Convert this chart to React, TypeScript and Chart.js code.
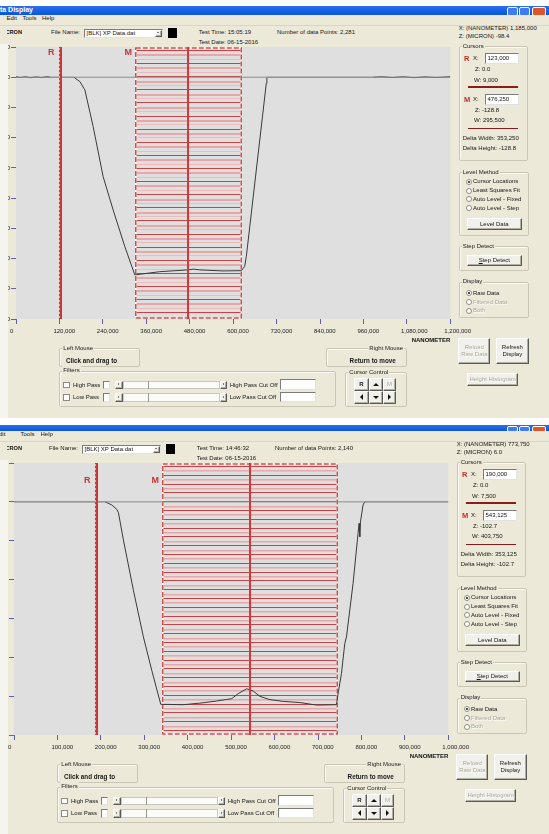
import React, { useEffect, useRef } from 'react';
import { Chart, registerables } from 'chart.js';

Chart.register(...registerables);

const FONT = '"Liberation Sans", Arial, Helvetica, sans-serif';
const BEIGE = '#ece9d8';
const TICK_BLUE = '#5c5cd6';

/* ---------- scan taken at 15:05:19 ---------- */
const upperInfo = ['15:05:19', '06-15-2016'];
const upperPointCount = [2281];
const upperPointer = [1185000, -98.4]; // X (nm), Z (micron) under the mouse
const upperCursorR = [123000, 0.0, 9000]; // X, Z, W
const upperCursorM = [476250, -128.8, 295500];
const upperDelta = [353250, -128.8]; // width, height
const upperXAxis = [0, 1200000, 120000]; // min, max, step
const upperZAxis = [-160, 20, 20];
const upperProfileX = [
  0, 12000, 26000, 40000, 55000, 70000, 85500, 95000, 160000, 176500,
  187600, 190300, 213200, 240800, 268400, 300700, 328300, 397200, 475300, 490000,
  507600, 571900, 622600, 631700, 636400, 691600, 693200, 987600, 1010000, 1040000,
  1070000, 1100000, 1130000, 1160000, 1200000,
];
const upperProfileZ = [
  0.3, -0.2, 0.3, -0.3, 0.2, -0.2, 0.3, 0, 0, -2.9,
  -7.3, -8.4, -32.7, -65.8, -87.8, -112.1, -130.8, -128.7, -127.5, -127.0,
  -127.5, -128.2, -128.0, -125.3, -118.7, -4.0, 0, 0, 0.3, -0.2,
  0.3, -0.3, 0.2, -0.2, 0.3,
];

/* ---------- scan taken at 14:46:32 ---------- */
const lowerInfo = ['14:46:32', '06-15-2016'];
const lowerPointCount = [2140];
const lowerPointer = [773750, 6.0];
const lowerCursorR = [190000, 0.0, 7500];
const lowerCursorM = [543125, -102.7, 403750];
const lowerDelta = [353125, -102.7];
const lowerXAxis = [0, 1000000, 100000];
const lowerZAxis = [-120, 20, 20];
const lowerProfileX = [
  0, 209900, 225300, 236800, 240500, 252000, 274900, 297900, 317200, 337900,
  389900, 428300, 466700, 489700, 501200, 516300, 535600, 550800, 566200, 589200,
  619800, 658200, 696600, 742500, 746200, 754000, 761600, 765500, 780700, 792200,
  794500, 796100, 797700, 803700, 807600, 1000000,
];
const lowerProfileZ = [
  0, 0, -1.6, -3.9, -5.6, -19.7, -45.5, -69.5, -86.7, -104.2,
  -104.4, -103.6, -102.5, -101.7, -101.3, -98.7, -96.2, -97.4, -100.1, -101.8,
  -102.7, -103.3, -104.6, -104.4, -98.7, -88.4, -72.9, -69.5, -42.0, -16.2,
  -11.1, -18.0, -10.3, -1.6, 0, 0,
];

const fileName = '[BLK] XP Data.dat';
const menuItems = ['Edit', 'Tools', 'Help'];
const levelMethods = ['Cursor Locations', 'Least Squares Fit', 'Auto Level - Fixed', 'Auto Level - Step'];
const displayModes = ['Raw Data', 'Filtered Data', 'Both'];
const filterNames = ['High Pass', 'Low Pass'];

type Scan = {
  info: string[];
  points: number;
  pointer: number[];
  r: number[];
  m: number[];
  delta: number[];
  xAxis: number[];
  zAxis: number[];
  px: number[];
  pz: number[];
};

const upperScan: Scan = {
  info: upperInfo, points: upperPointCount[0], pointer: upperPointer, r: upperCursorR, m: upperCursorM,
  delta: upperDelta, xAxis: upperXAxis, zAxis: upperZAxis, px: upperProfileX, pz: upperProfileZ,
};
const lowerScan: Scan = {
  info: lowerInfo, points: lowerPointCount[0], pointer: lowerPointer, r: lowerCursorR, m: lowerCursorM,
  delta: lowerDelta, xAxis: lowerXAxis, zAxis: lowerZAxis, px: lowerProfileX, pz: lowerProfileZ,
};

const fmtInt = (n: number) => String(Math.round(n)).replace(/\B(?=(\d{3})+(?!\d))/g, ',');
const fmtZ = (z: number) => z.toFixed(1);

/* ---------- small widgets ---------- */
type TProps = {
  x: number; y: number; s?: number; b?: boolean; c?: string;
  a?: 'left' | 'right' | 'center'; w?: number; sh?: boolean; children: React.ReactNode;
};
function T({ x, y, s = 6, b = false, c = '#161616', a = 'left', w = 80, sh = false, children }: TProps) {
  const lh = Math.ceil(s + 3);
  const left = a === 'left' ? x : a === 'right' ? x - w : x - w / 2;
  return (
    <div
      style={{
        position: 'absolute', left, top: y - lh / 2, width: a === 'left' ? undefined : w,
        textAlign: a, fontFamily: FONT, fontSize: s, lineHeight: lh + 'px', fontWeight: b ? 700 : 400,
        color: c, whiteSpace: 'nowrap', textShadow: sh ? '0.6px 0.6px 0 #ffffff' : undefined,
      }}
    >
      {children}
    </div>
  );
}

const abs = (left: number, top: number, width: number, height: number): React.CSSProperties => ({
  position: 'absolute', left, top, width, height, boxSizing: 'border-box',
});

function Group({ x, y, w, h, label, labelRight }: { x: number; y: number; w: number; h: number; label: string; labelRight?: number }) {
  return (
    <>
      <div style={{ ...abs(x, y, w, h), border: '1px solid #c9c6b5', borderRadius: 2, boxShadow: 'inset 1px 1px 0 #faf9f4' }} />
      <div
        style={{
          position: 'absolute', top: y - 4.5, fontFamily: FONT, fontSize: 6, lineHeight: '9px', color: '#1a1a1a',
          background: BEIGE, padding: '0 1px', whiteSpace: 'nowrap',
          ...(labelRight !== undefined ? { right: 549 - labelRight } : { left: x + 3 }),
        }}
      >
        {label}
      </div>
    </>
  );
}

function Btn({ x, y, w, h, disabled = false, children }: { x: number; y: number; w: number; h: number; disabled?: boolean; children: React.ReactNode }) {
  return (
    <div
      style={{
        ...abs(x, y, w, h), background: '#f1f0ea', border: '1px solid', borderColor: '#ffffff #5a5a5a #5a5a5a #ffffff',
        boxShadow: 'inset -1px -1px 0 #b2b0a6', display: 'flex', alignItems: 'center', justifyContent: 'center',
        textAlign: 'center', fontFamily: FONT, fontSize: 6, lineHeight: '7px',
        color: disabled ? '#aaa89c' : '#151515', textShadow: disabled ? '0.6px 0.6px 0 #ffffff' : undefined,
      }}
    >
      {children}
    </div>
  );
}

function Field({ x, y, w, h, children }: { x: number; y: number; w: number; h: number; children?: React.ReactNode }) {
  return (
    <div
      style={{
        ...abs(x, y, w, h), background: '#ffffff', border: '1px solid', borderColor: '#7c7c7c #e2e2e2 #e2e2e2 #7c7c7c',
        fontFamily: FONT, fontSize: 6, lineHeight: h - 2 + 'px', paddingLeft: 1.5, color: '#151515',
        whiteSpace: 'nowrap', overflow: 'hidden',
      }}
    >
      {children}
    </div>
  );
}

function Radio({ x, y, checked = false, disabled = false, label }: { x: number; y: number; checked?: boolean; disabled?: boolean; label: string }) {
  return (
    <>
      <div style={{ ...abs(x, y - 3, 6, 6), borderRadius: '50%', border: '1px solid #8d8c84', background: '#ffffff' }}>
        {checked && <div style={{ ...abs(1, 1, 2, 2), borderRadius: '50%', background: '#111111' }} />}
      </div>
      <T x={x + 7} y={y} c={disabled ? '#aaa89c' : '#161616'} sh={disabled}>{label}</T>
    </>
  );
}

function Tri({ x, y, dir, size = 3, color = '#111111' }: { x: number; y: number; dir: 'l' | 'r' | 'u' | 'd'; size?: number; color?: string }) {
  const s = size;
  const st: React.CSSProperties = { position: 'absolute', width: 0, height: 0, borderStyle: 'solid' };
  if (dir === 'l') Object.assign(st, { left: x - s / 2, top: y - s, borderWidth: `${s}px ${s}px ${s}px 0`, borderColor: `transparent ${color} transparent transparent` });
  if (dir === 'r') Object.assign(st, { left: x - s / 2, top: y - s, borderWidth: `${s}px 0 ${s}px ${s}px`, borderColor: `transparent transparent transparent ${color}` });
  if (dir === 'u') Object.assign(st, { left: x - s, top: y - s / 2, borderWidth: `0 ${s}px ${s}px ${s}px`, borderColor: `transparent transparent ${color} transparent` });
  if (dir === 'd') Object.assign(st, { left: x - s, top: y - s / 2, borderWidth: `${s}px ${s}px 0 ${s}px`, borderColor: `${color} transparent transparent transparent` });
  return <div style={st} />;
}

/* ---------- profile plot ---------- */
const L_PAD = 40;
const T_PAD = 10;
const R_PAD = 30;
const B_PAD = 28;
const PLOT_W = 435;
const PLOT_H = 272;
const CLIP_X = 8;

type ChartProps = {
  scan: Scan; plotLeft: number; plotTop: number;
  hatchGap: number; hatchColors: string[]; hatchWidths: number[]; labelDy: number;
};

function ProfileChart({ scan, plotLeft, plotTop, hatchGap, hatchColors, hatchWidths, labelDy }: ChartProps) {
  const ref = useRef<HTMLCanvasElement>(null);
  useEffect(() => {
    const canvas = ref.current;
    if (!canvas) return;
    const [xMin, xMax, xStep] = scan.xAxis;
    const [zMin, zMax, zStep] = scan.zAxis;
    const profile = scan.px.map((x, i) => ({ x, y: scan.pz[i] }));
    const zeroLine = [{ x: xMin, y: 0 }, { x: xMax, y: 0 }];

    const cursorLayer = {
      id: 'cursorLayer',
      beforeDatasetsDraw(chart: any) {
        const { ctx, chartArea: a } = chart;
        const xs = chart.scales.x;
        ctx.save();
        ctx.fillStyle = '#dfdfdf';
        ctx.fillRect(a.left, a.top, a.right - a.left, a.bottom - a.top);
        const [mx, , mw] = scan.m;
        const x1 = Math.round(xs.getPixelForValue(mx - mw / 2));
        const x2 = Math.round(xs.getPixelForValue(mx + mw / 2));
        // horizontal hatch of the measurement window
        let k = 0;
        for (let y = a.top + 3; y < a.bottom - 2; y += hatchGap, k++) {
          const n = k % hatchColors.length;
          ctx.fillStyle = hatchColors[n];
          ctx.fillRect(x1, Math.round(y), x2 - x1, hatchWidths[n]);
        }
        ctx.lineWidth = 1.5;
        ctx.strokeStyle = '#ffffff';
        ctx.strokeRect(x1 + 0.75, a.top + 1, x2 - x1 - 1.5, a.bottom - a.top - 2);
        ctx.setLineDash([5, 2]);
        ctx.strokeStyle = '#d05050';
        ctx.strokeRect(x1 + 0.75, a.top + 1, x2 - x1 - 1.5, a.bottom - a.top - 2);
        ctx.restore();
      },
      afterDatasetsDraw(chart: any) {
        const { ctx, chartArea: a } = chart;
        const xs = chart.scales.x;
        const [rx] = scan.r;
        const [mx, , mw] = scan.m;
        const xr = xs.getPixelForValue(rx);
        const xm = xs.getPixelForValue(mx);
        const x1 = Math.round(xs.getPixelForValue(mx - mw / 2));
        ctx.save();
        // reference cursor
        ctx.fillStyle = '#cc3636';
        ctx.fillRect(xr - 1.5, a.top, 3, a.bottom - a.top);
        ctx.fillStyle = '#eda8a8';
        for (let y = a.top + 1; y < a.bottom; y += 4) ctx.fillRect(xr - 1.5, y, 1, 2);
        // measurement cursor
        ctx.fillStyle = '#d03a3a';
        ctx.fillRect(Math.round(xm) - 1, a.top, 2, a.bottom - a.top);
        ctx.font = `bold 9px ${FONT}`;
        ctx.fillStyle = '#c73535';
        ctx.textAlign = 'right';
        ctx.textBaseline = 'middle';
        ctx.fillText('R', xr - 6, a.top + labelDy);
        ctx.fillText('M', x1 - 3, a.top + labelDy);
        ctx.restore();
      },
    };

    const tickFont = { family: FONT, size: 6 };
    const chart = new Chart(canvas, {
      type: 'scatter',
      data: {
        datasets: [
          { data: zeroLine, showLine: true, borderColor: '#8c8c8c', borderWidth: 1, pointRadius: 0 },
          {
            data: profile, showLine: true, borderColor: '#3a3a3a', borderWidth: 1, pointRadius: 0,
            segment: {
              borderColor: (c: any) => (c.p0.parsed.y === 0 && c.p1.parsed.y === 0 ? '#8c8c8c' : '#3a3a3a'),
            },
          },
        ],
      },
      options: {
        animation: false,
        responsive: false,
        devicePixelRatio: 1,
        events: [],
        layout: { padding: { top: T_PAD, right: R_PAD, left: 0, bottom: 0 } },
        plugins: { legend: { display: false }, tooltip: { enabled: false } },
        scales: {
          x: {
            type: 'linear', min: xMin, max: xMax,
            afterFit: (s: any) => { s.height = B_PAD; },
            ticks: {
              stepSize: xStep, autoSkip: false, maxRotation: 0, align: 'start', labelOffset: -6, padding: 4,
              color: '#1c1c1c', font: tickFont, callback: (v: any) => fmtInt(Number(v)),
            },
            grid: { drawOnChartArea: false, drawTicks: true, tickLength: 5, tickColor: TICK_BLUE, color: TICK_BLUE },
            border: { display: false },
            title: {
              display: true, text: 'NANOMETER', align: 'end', color: '#111111',
              font: { family: FONT, size: 6, weight: 'bold' }, padding: { top: 0, bottom: 3 },
            },
          },
          y: {
            type: 'linear', min: zMin, max: zMax,
            afterFit: (s: any) => { s.width = L_PAD; },
            ticks: { stepSize: zStep, autoSkip: false, padding: 1, color: '#1c1c1c', font: tickFont },
            grid: { drawOnChartArea: false, drawTicks: true, tickLength: 5, tickColor: TICK_BLUE, color: TICK_BLUE },
            border: { display: false },
          },
        },
      } as any,
      plugins: [cursorLayer],
    });
    return () => chart.destroy();
  }, [scan, hatchGap, hatchColors, hatchWidths, labelDy]);

  const cw = L_PAD + PLOT_W + R_PAD;
  const ch = T_PAD + PLOT_H + B_PAD;
  return (
    <div style={{ position: 'absolute', left: CLIP_X, top: plotTop - T_PAD, width: cw, height: ch, overflow: 'hidden' }}>
      <canvas
        ref={ref}
        width={cw}
        height={ch}
        style={{ position: 'absolute', left: plotLeft - L_PAD - CLIP_X, top: 0, width: cw, height: ch }}
      />
    </div>
  );
}

/* ---------- one application window ---------- */
type WinProps = {
  scan: Scan; ox: number; oy: number; menuX: number[];
  hatchGap: number; hatchColors: string[]; hatchWidths: number[]; labelDy: number;
};

function AppWindow({ scan, ox, oy, menuX, hatchGap, hatchColors, hatchWidths, labelDy }: WinProps) {
  const X = (v: number) => v + ox;
  const Y = (v: number) => v + oy;
  const [rx, rz, rw] = scan.r;
  const [mx, mz, mw] = scan.m;
  const red = '#c0302c';
  return (
    <>
      <div style={{ ...abs(0, Y(15), 549, 403), background: BEIGE }} />
      <div style={{ ...abs(0, Y(44), 8, 374), background: '#f5f4ef' }} />

      {/* menu bar */}
      {menuItems.map((m, i) => (
        <T key={m} x={menuX[i]} y={Y(18.8)}>{m}</T>
      ))}
      <div style={{ ...abs(0, Y(24.5), 549, 1), background: '#d9d6c7' }} />

      {/* tool row */}
      <div style={{ ...abs(6.5, Y(28), 15.5, 9), overflow: 'hidden' }}>
        <div style={{ position: 'absolute', right: 0, top: 0, fontFamily: FONT, fontSize: 5.6, fontWeight: 700, lineHeight: '9px', whiteSpace: 'nowrap', color: '#111' }}>MICRON</div>
      </div>
      <T x={X(49)} y={Y(32.3)}>File Name:</T>
      <Field x={X(82)} y={Y(28.5)} w={79} h={9}>{fileName}</Field>
      <Btn x={X(152.5)} y={Y(29.5)} w={7.5} h={7}>{''}</Btn>
      <Tri x={X(156.2)} y={Y(33)} dir="d" size={1.6} />
      <div style={{ ...abs(X(165.5), Y(28), 9.5, 10), background: '#000' }} />
      <T x={X(196.7)} y={Y(32.3)}>{`Test Time: ${scan.info[0]}`}</T>
      <T x={X(196.7)} y={Y(42)}>{`Test Date: ${scan.info[1]}`}</T>
      <T x={X(275)} y={Y(32.3)}>{`Number of data Points: ${fmtInt(scan.points)}`}</T>
      <T x={X(456.7)} y={Y(28.3)}>{`X: (NANOMETER)  ${fmtInt(scan.pointer[0])}`}</T>
      <T x={X(456.7)} y={Y(36)}>{`Z: (MICRON)  ${fmtZ(scan.pointer[1])}`}</T>

      {/* plot */}
      <ProfileChart
        scan={scan} plotLeft={X(14)} plotTop={Y(47)}
        hatchGap={hatchGap} hatchColors={hatchColors} hatchWidths={hatchWidths} labelDy={labelDy}
      />

      {/* cursor read-outs */}
      <Group x={X(456.7)} y={Y(46)} w={69.6} h={114.7} label="Cursors" />
      <T x={X(462)} y={Y(58)} s={7.5} b c={red}>R</T>
      <T x={X(471)} y={Y(58)}>X:</T>
      <Field x={X(483)} y={Y(53)} w={34.3} h={10.5}>{fmtInt(rx)}</Field>
      <T x={X(473)} y={Y(69)}>{`Z:  ${fmtZ(rz)}`}</T>
      <T x={X(472)} y={Y(80.7)}>{`W:  ${fmtInt(rw)}`}</T>
      <div style={{ ...abs(X(465.7), Y(86.2), 50, 1.5), background: '#8b1c1c' }} />
      <T x={X(462)} y={Y(99)} s={7.5} b c={red}>M</T>
      <T x={X(471)} y={Y(99)}>X:</T>
      <Field x={X(483)} y={Y(94.3)} w={34.3} h={10.5}>{fmtInt(mx)}</Field>
      <T x={X(473)} y={Y(110)}>{`Z:  ${fmtZ(mz)}`}</T>
      <T x={X(472)} y={Y(120.7)}>{`W:  ${fmtInt(mw)}`}</T>
      <div style={{ ...abs(X(465.7), Y(127.8), 50, 1.5), background: '#8b1c1c' }} />
      <T x={X(460.7)} y={Y(138)}>{`Delta Width:  ${fmtInt(scan.delta[0])}`}</T>
      <T x={X(460.7)} y={Y(148.3)}>{`Delta Height:  ${fmtZ(scan.delta[1])}`}</T>

      {/* level method */}
      <Group x={X(456.7)} y={Y(172.3)} w={70} h={63.4} label="Level Method" />
      {levelMethods.map((m, i) => (
        <Radio key={m} x={X(464)} y={Y(181.7 + i * 8.8)} checked={i === 0} label={m} />
      ))}
      <Btn x={X(465)} y={Y(218.3)} w={54.7} h={11.6}>Level Data</Btn>

      {/* step detect */}
      <Group x={X(456.7)} y={Y(246.3)} w={70} h={25} label="Step Detect" />
      <Btn x={X(465)} y={Y(254.7)} w={54.7} h={11.6}>
        <span><u>S</u>tep Detect</span>
      </Btn>

      {/* display */}
      <Group x={X(456.7)} y={Y(281.7)} w={70} h={36.5} label="Display" />
      {displayModes.map((m, i) => (
        <Radio key={m} x={X(464)} y={Y(293.3 + i * 8.7)} checked={i === 0} disabled={i > 0} label={m} />
      ))}

      <Btn x={X(456.3)} y={Y(338)} w={32} h={26} disabled>
        <span>Reload<br />Raw Data</span>
      </Btn>
      <Btn x={X(494)} y={Y(338)} w={32.7} h={26}>
        <span>Refresh<br />Display</span>
      </Btn>
      <Btn x={X(465)} y={Y(373)} w={51.3} h={13.3} disabled>Height Histogram</Btn>

      {/* mouse hints */}
      <Group x={X(57.3)} y={Y(348.3)} w={80.4} h={19} label="Left Mouse" />
      <T x={X(64)} y={Y(360.7)} s={6.3} b>Click and drag to</T>
      <Group x={X(324)} y={Y(348.3)} w={80.7} h={19} label="Right Mouse" labelRight={X(402)} />
      <T x={X(370.7)} y={Y(360.7)} s={6.3} b a="center" w={70}>Return to move</T>

      {/* filters */}
      <Group x={X(57.3)} y={Y(370.7)} w={276.7} h={36.6} label="Filters" />
      {filterNames.map((f, i) => {
        const ry = 385 + i * 12.3;
        return (
          <React.Fragment key={f}>
            <div style={{ ...abs(X(61), Y(ry - 3.3), 6.6, 6.6), background: '#fff', border: '1px solid #8d8c84' }} />
            <T x={X(71)} y={Y(ry)}>{f}</T>
            <Field x={X(100.7)} y={Y(ry - 4)} w={7.6} h={8.4} />
            <Btn x={X(113.3)} y={Y(ry - 4)} w={7.7} h={8.4}>{''}</Btn>
            <Tri x={X(117.2)} y={Y(ry)} dir="l" size={1.6} />
            <div style={{ ...abs(X(121), Y(ry - 4), 97, 8.4), background: '#fbfbf9', border: '1px solid #c9c8c0' }} />
            <div style={{ ...abs(X(146.2), Y(ry - 4), 1, 8.4), background: '#9a9990' }} />
            <Btn x={X(218)} y={Y(ry - 4)} w={6.9} h={8.4}>{''}</Btn>
            <Tri x={X(221.5)} y={Y(ry)} dir="r" size={1.6} />
            <T x={X(227.7)} y={Y(ry)}>{`${f} Cut Off`}</T>
            <Field x={X(278)} y={Y(ry - 5.8)} w={36} h={10.5} />
          </React.Fragment>
        );
      })}

      {/* cursor control */}
      <Group x={X(343.3)} y={Y(372.3)} w={61.4} h={35} label="Cursor Control" />
      <Btn x={X(352.3)} y={Y(378.3)} w={14.3} h={13}><b>R</b></Btn>
      <Btn x={X(366.6)} y={Y(378.3)} w={14.2} h={13}>{''}</Btn>
      <Tri x={X(373.7)} y={Y(384.8)} dir="u" size={3.2} />
      <Btn x={X(380.8)} y={Y(378.3)} w={13.6} h={13} disabled>M</Btn>
      <Btn x={X(352.3)} y={Y(391.3)} w={14.3} h={13}>{''}</Btn>
      <Tri x={X(359.4)} y={Y(397.8)} dir="l" size={3.6} />
      <Btn x={X(366.6)} y={Y(391.3)} w={14.2} h={13}>{''}</Btn>
      <Tri x={X(373.7)} y={Y(397.8)} dir="d" size={3.2} />
      <Btn x={X(380.8)} y={Y(391.3)} w={13.6} h={13}>{''}</Btn>
      <Tri x={X(387.6)} y={Y(397.8)} dir="r" size={3.6} />
    </>
  );
}

function TitleBar({ top, h, title }: { top: number; h: number; title?: string }) {
  return (
    <div style={{ ...abs(0, top, 549, h), overflow: 'hidden', background: 'linear-gradient(#2b6fe9, #0b55dc)' }}>
      {title && (
        <div style={{ position: 'absolute', left: -9, top: -1.5, fontFamily: FONT, fontSize: 7, fontWeight: 700, color: '#ffffff', lineHeight: '9px', whiteSpace: 'nowrap' }}>{title}</div>
      )}
      <div style={{ ...abs(507, 1, 11, h), background: '#3f7cf3', border: '1px solid #ffffff', borderRadius: 2 }} />
      <div style={{ ...abs(519, 1, 11, h), background: '#3f7cf3', border: '1px solid #ffffff', borderRadius: 2 }} />
      <div style={{ ...abs(532, 1, 14, h), background: '#e0562c', border: '1px solid #ffffff', borderRadius: 2 }} />
    </div>
  );
}

export default function App() {
  return (
    <div style={{ position: 'absolute', left: 0, top: 0, width: 549, height: 834, overflow: 'hidden', background: '#ffffff', fontFamily: FONT }}>
      <TitleBar top={6} h={9} title="Data Display" />
      <AppWindow
        scan={upperScan} ox={2} oy={0} menuX={[6.5, 22.5, 42]}
        hatchGap={4.37} hatchColors={['#c84444', '#e8a6a6', '#ebbcbc']} hatchWidths={[1, 2, 1]} labelDy={5.5}
      />
      <TitleBar top={425} h={6} />
      <AppWindow
        scan={lowerScan} ox={0} oy={416} menuX={[-5, 20.5, 40.5]}
        hatchGap={4.4} hatchColors={['#c84444', '#e6a8a8']} hatchWidths={[1, 1.5]} labelDy={18}
      />
    </div>
  );
}
